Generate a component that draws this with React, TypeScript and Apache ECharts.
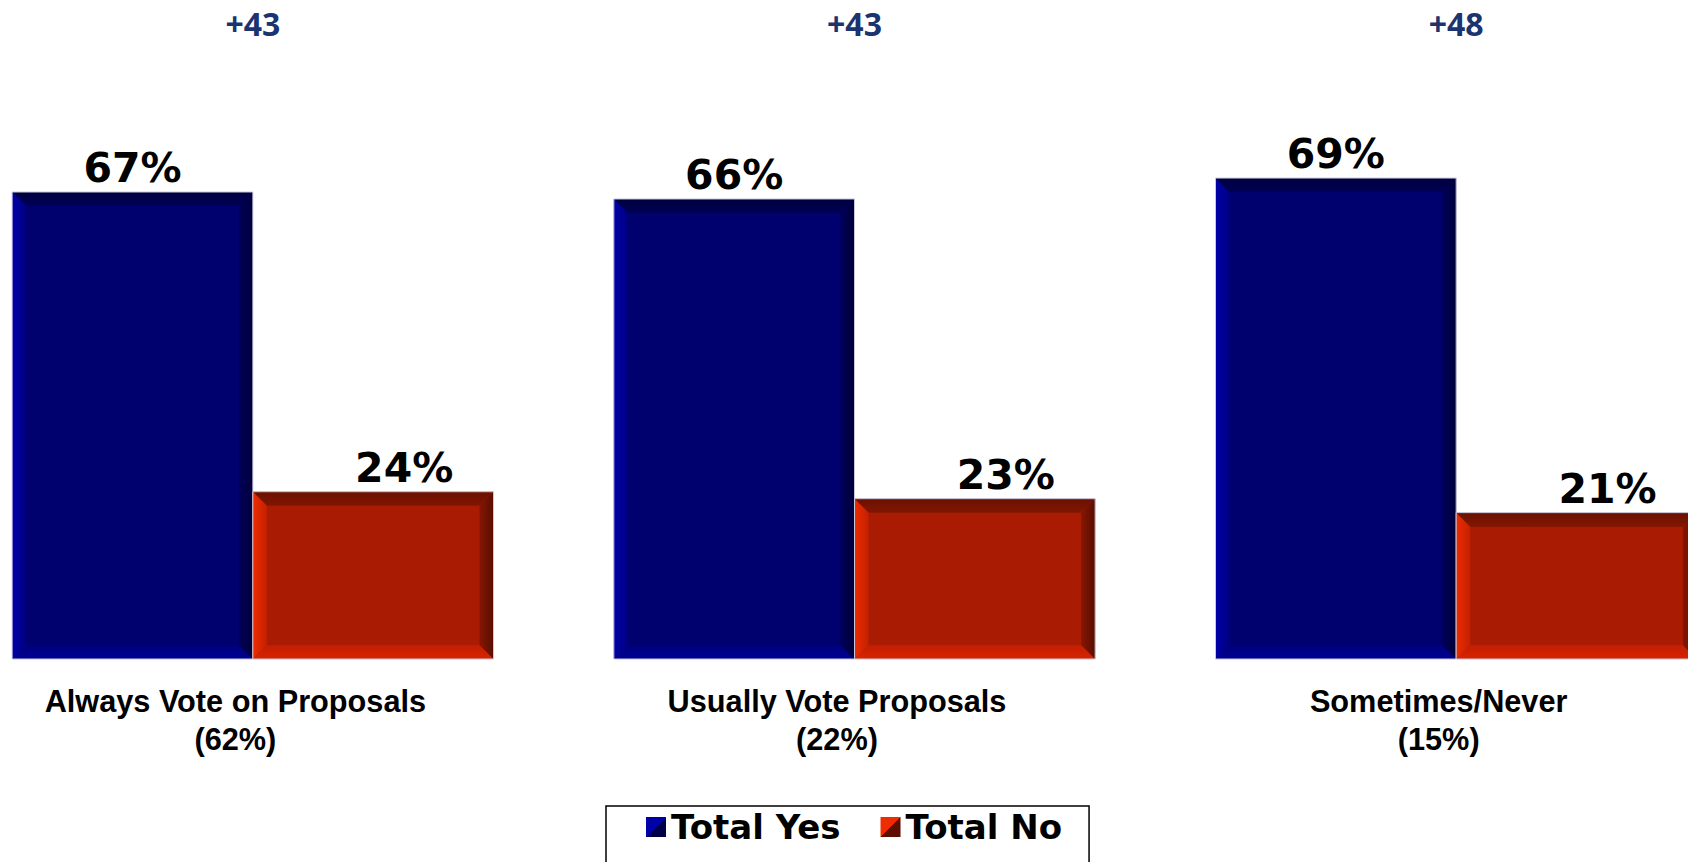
import React, { useEffect, useRef } from 'react';
import * as echarts from 'echarts';

const categories = ['Always Vote on Proposals', 'Usually Vote Proposals', 'Sometimes/Never'];
const shares = [62, 22, 15];
const totalYes = [67, 66, 69];
const totalNo = [24, 23, 21];
const seriesNames = ['Total Yes', 'Total No'];

const leads = totalYes.map((y, i) => y - totalNo[i]);

// The plot area is wider than the page (the right bar is cut off), so the
// chart canvas is shifted left and clipped by a page-sized frame.
const PAGE_W = 1688;
const PAGE_H = 862;
const SHIFT_X = 48;
const CHART_W = 1804.5;

const BLUE = {
  main: '#00006E',
  left: ['#0000AA', '#000080'],
  top: ['#00003E', '#000056'],
  right: ['#00005A', '#00003A'],
  bottom: ['#00007C', '#000094'],
};
const RED = {
  main: '#AA1B04',
  left: ['#EE2C00', '#C42000'],
  top: ['#6C1000', '#801602'],
  right: ['#861602', '#580E00'],
  bottom: ['#C21E02', '#D82400'],
};

const lg = (x0: number, y0: number, x1: number, y1: number, c0: string, c1: string) =>
  new echarts.graphic.LinearGradient(x0, y0, x1, y1, [
    { offset: 0, color: c0 },
    { offset: 1, color: c1 },
  ]);

const split = (a: string, b: string) =>
  new echarts.graphic.LinearGradient(0, 0, 1, 1, [
    { offset: 0, color: a },
    { offset: 0.5, color: a },
    { offset: 0.5, color: b },
    { offset: 1, color: b },
  ]);

function makeRender(pos: number, pal: any, shift: number) {
  return (params: any, api: any) => {
    const i = api.value(0);
    const v = api.value(1);
    const base = api.coord([i, 0]);
    const topP = api.coord([i, v]);
    const band = api.size([1, 0])[0];
    const bw = band * 0.4;
    const x0 = base[0] - bw + pos * bw;
    const y0 = topP[1];
    const h = base[1] - y0;
    const x1 = x0 + bw;
    const y1 = y0 + h;
    const b = 14;
    const visibleRight = PAGE_W + SHIFT_X;
    let lx = x0 + bw / 2 + shift;
    let align = 'center';
    if (lx + 52 > visibleRight - 14) {
      lx = visibleRight - 14;
      align = 'right';
    }
    return {
      type: 'group',
      children: [
        { type: 'rect', shape: { x: x0, y: y0, width: bw, height: h }, style: { fill: pal.main } },
        {
          type: 'polygon',
          shape: { points: [[x0, y0], [x1, y0], [x1 - b, y0 + b], [x0 + b, y0 + b]] },
          style: { fill: lg(0, 0, 0, 1, pal.top[0], pal.top[1]) },
        },
        {
          type: 'polygon',
          shape: { points: [[x0, y1], [x1, y1], [x1 - b, y1 - b], [x0 + b, y1 - b]] },
          style: { fill: lg(0, 0, 0, 1, pal.bottom[0], pal.bottom[1]) },
        },
        {
          type: 'polygon',
          shape: { points: [[x0, y0], [x0 + b, y0 + b], [x0 + b, y1 - b], [x0, y1]] },
          style: { fill: lg(0, 0, 1, 0, pal.left[0], pal.left[1]) },
        },
        {
          type: 'polygon',
          shape: { points: [[x1, y0], [x1, y1], [x1 - b, y1 - b], [x1 - b, y0 + b]] },
          style: { fill: lg(0, 0, 1, 0, pal.right[0], pal.right[1]) },
        },
        {
          type: 'rect',
          shape: { x: x0, y: y0, width: bw, height: h },
          style: { fill: 'none', stroke: '#C8C8DC', lineWidth: 1 },
        },
        {
          type: 'text',
          x: lx,
          y: y0 - 3.5,
          style: {
            text: `${v}%`,
            fontSize: 41,
            fontWeight: 'bold',
            fontFamily: 'DejaVu Sans',
            fill: '#000000',
            align,
            verticalAlign: 'bottom',
          },
        },
      ],
    };
  };
}

export default function App() {
  const ref = useRef<HTMLDivElement>(null);
  useEffect(() => {
    if (!ref.current) return;
    const chart = echarts.init(ref.current, undefined, { renderer: 'svg' });
    const option: any = {
      animation: false,
      backgroundColor: '#ffffff',
      grid: { left: 0, right: 0, top: 31.7, bottom: 203, containLabel: false },
      xAxis: [
        {
          type: 'category',
          data: categories.map((c, i) => `${c}\n(${shares[i]}%)`),
          axisLine: { show: false },
          axisTick: { show: false },
          axisLabel: {
            interval: 0,
            margin: 23,
            color: '#000000',
            fontFamily: 'Liberation Sans',
            fontWeight: 'bold',
            fontSize: 30.7,
            lineHeight: 38,
            align: 'center',
            padding: [0, 35, 0, 0],
          },
        },
        {
          type: 'category',
          position: 'top',
          data: leads.map((d) => `+${d}`),
          axisLine: { show: false },
          axisTick: { show: false },
          axisLabel: {
            interval: 0,
            margin: -8,
            color: '#1B336E',
            fontFamily: 'Open Sans',
            fontWeight: 'bold',
            fontSize: 32,
          },
        },
      ],
      yAxis: { type: 'value', min: 0, max: 90, show: false, splitLine: { show: false } },
      legend: {
        left: 606 + SHIFT_X,
        top: 806,
        orient: 'horizontal',
        selectedMode: false,
        padding: [4, 27, 30, 40],
        itemGap: 40,
        itemWidth: 20,
        itemHeight: 20,
        icon: 'rect',
        backgroundColor: '#ffffff',
        borderColor: '#000000',
        borderWidth: 1.5,
        borderRadius: 0,
        textStyle: { color: '#000000', fontFamily: 'DejaVu Sans', fontWeight: 'bold', fontSize: 34 },
        data: [
          { name: seriesNames[0], itemStyle: { color: split('#0000A8', '#000048') } },
          { name: seriesNames[1], itemStyle: { color: split('#EE2C00', '#5E0E00') } },
        ],
      },
      series: [
        {
          name: seriesNames[0],
          type: 'custom',
          xAxisIndex: 0,
          renderItem: makeRender(0, BLUE, 0),
          itemStyle: { color: BLUE.main },
          encode: { x: 0, y: 1 },
          data: totalYes.map((v, i) => [i, v]),
        },
        {
          name: seriesNames[1],
          type: 'custom',
          xAxisIndex: 0,
          renderItem: makeRender(1, RED, 31),
          itemStyle: { color: RED.main },
          encode: { x: 0, y: 1 },
          data: totalNo.map((v, i) => [i, v]),
        },
      ],
    };
    chart.setOption(option);
    return () => chart.dispose();
  }, []);
  return (
    <div
      style={{
        position: 'absolute',
        left: 0,
        top: 0,
        width: PAGE_W,
        height: PAGE_H,
        overflow: 'hidden',
        background: '#ffffff',
      }}
    >
      <div
        ref={ref}
        style={{ position: 'absolute', left: -SHIFT_X, top: 0, width: CHART_W, height: PAGE_H }}
      />
    </div>
  );
}
